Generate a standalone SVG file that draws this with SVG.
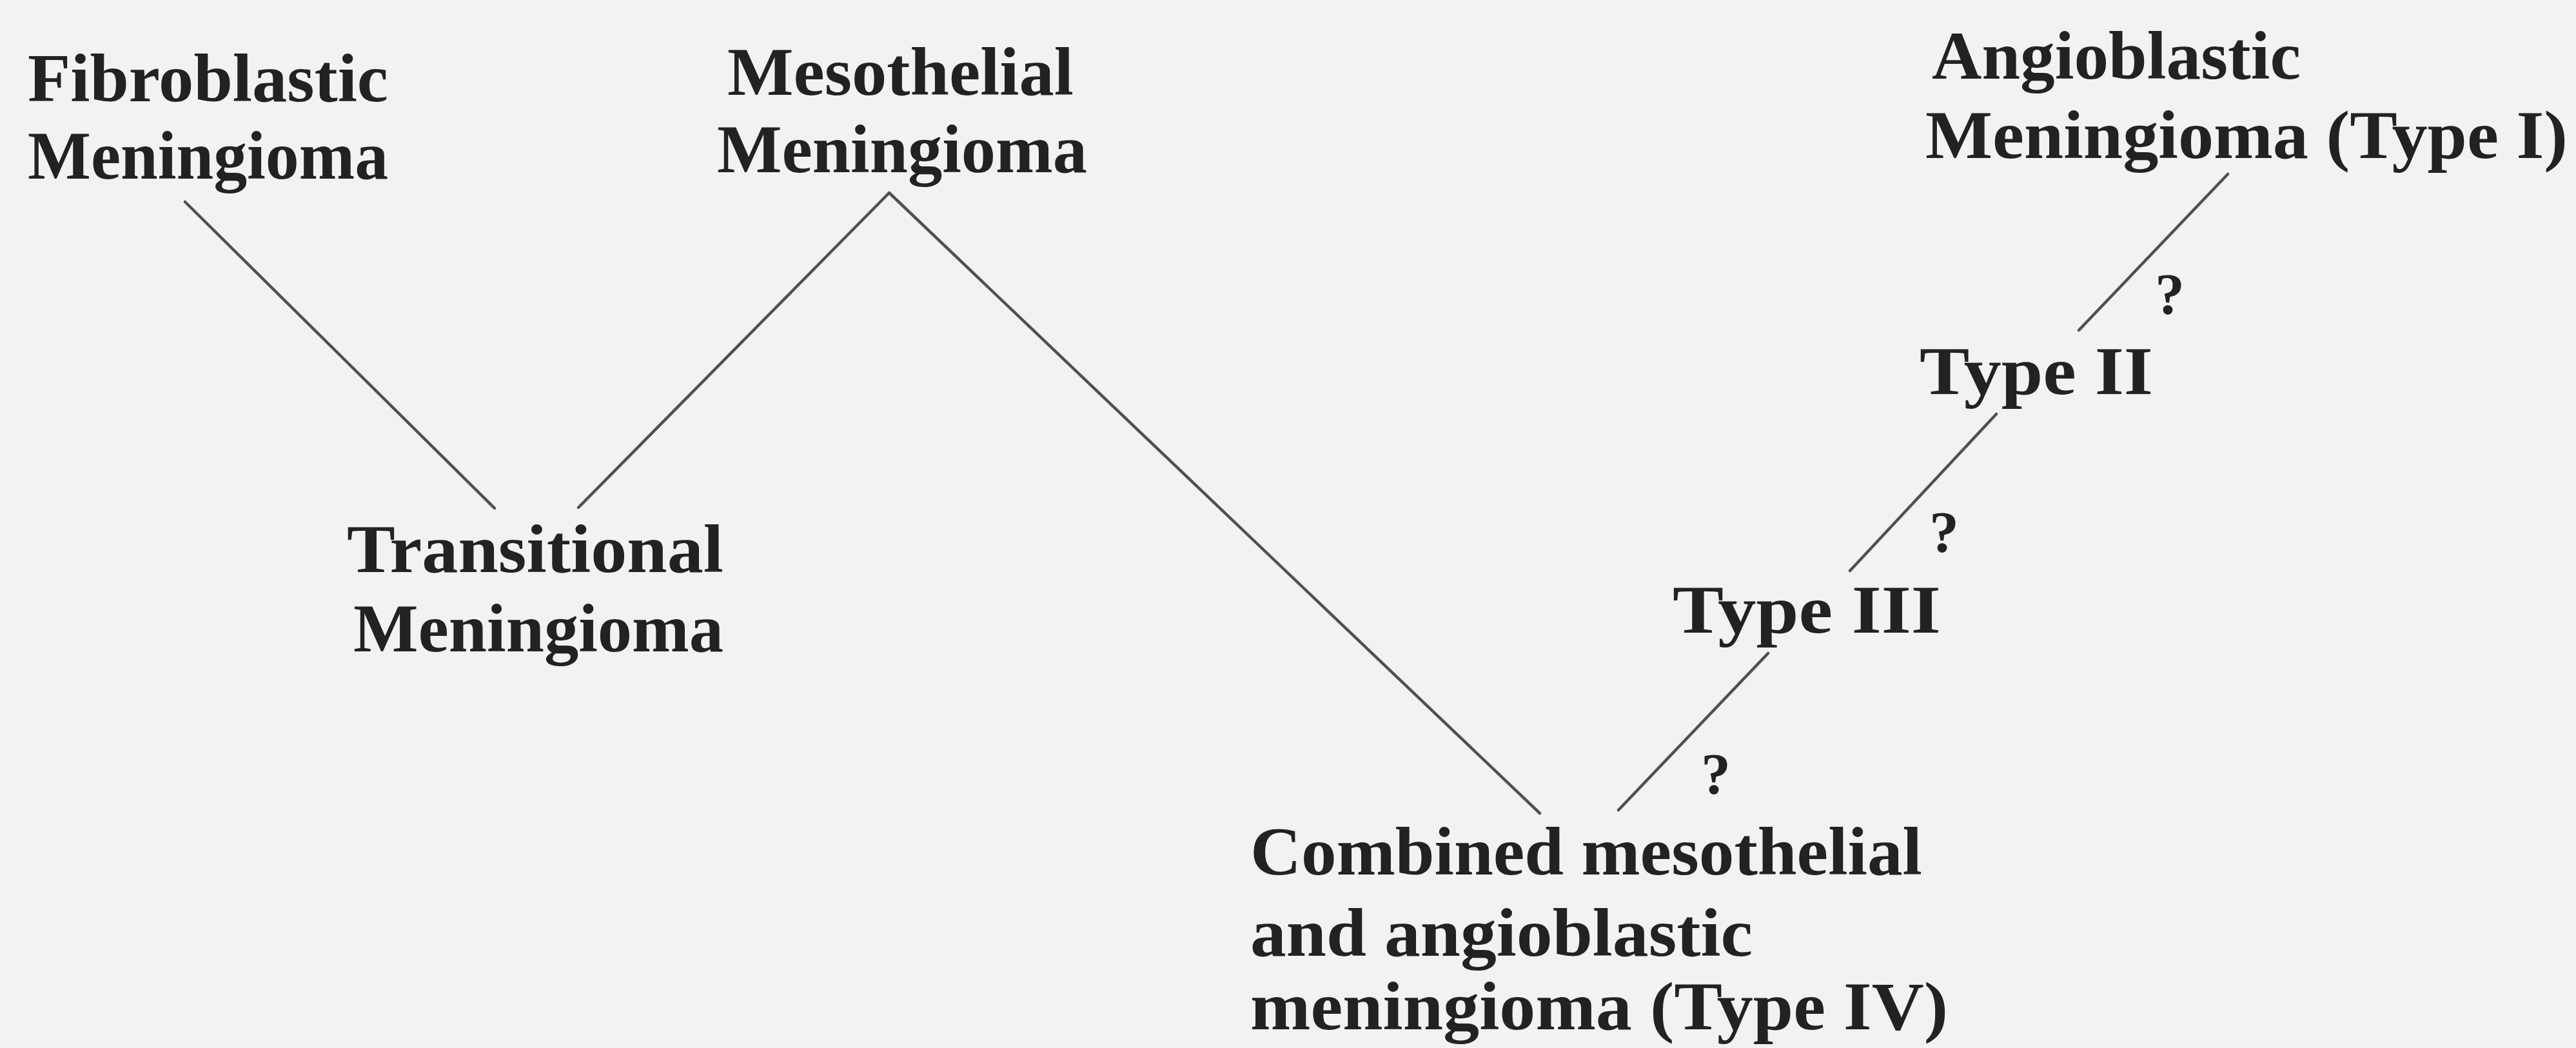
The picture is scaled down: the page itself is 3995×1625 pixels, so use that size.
<svg xmlns="http://www.w3.org/2000/svg" width="3995" height="1625" viewBox="0 0 3995 1625">
<style>
.t{font-family:"Liberation Serif","Times New Roman",serif;font-weight:bold;font-size:106px;fill:#222222}
.q{font-family:"Liberation Serif","Times New Roman",serif;font-weight:bold;font-size:92px;fill:#222222}
.c{stroke:#505050;stroke-width:4.5;fill:none;stroke-linecap:round;stroke-linejoin:round}
</style>
<rect width="3995" height="1625" fill="#f2f2f2"/>
<g id="connectors">
<line class="c" x1="287" y1="313" x2="767" y2="788"/>
<polyline class="c" points="897,787 1379,299 2388,1261"/>
<line class="c" x1="3455" y1="270" x2="3224" y2="512"/>
<line class="c" x1="3096" y1="642" x2="2869" y2="885"/>
<line class="c" x1="2742" y1="1013" x2="2510" y2="1256"/>
<text class="q" x="3342" y="487">?</text>
<text class="q" x="2992" y="856">?</text>
<text class="q" x="2638" y="1231">?</text>
</g>
<g id="fibroblastic">
<text class="t" x="43" y="157" textLength="559" lengthAdjust="spacingAndGlyphs">Fibroblastic</text>
<text class="t" x="43" y="277" textLength="559" lengthAdjust="spacingAndGlyphs">Meningioma</text>
</g>
<g id="mesothelial">
<text class="t" x="1128" y="147" textLength="537" lengthAdjust="spacingAndGlyphs">Mesothelial</text>
<text class="t" x="1112" y="267" textLength="574" lengthAdjust="spacingAndGlyphs">Meningioma</text>
</g>
<g id="angioblastic">
<text class="t" x="2996" y="122" textLength="572" lengthAdjust="spacingAndGlyphs">Angioblastic</text>
<text class="t" x="2986" y="245" textLength="996" lengthAdjust="spacingAndGlyphs">Meningioma (Type I)</text>
</g>
<g id="type2">
<text class="t" x="2977" y="611" textLength="362" lengthAdjust="spacingAndGlyphs">Type II</text>
</g>
<g id="type3">
<text class="t" x="2594" y="981" textLength="416" lengthAdjust="spacingAndGlyphs">Type III</text>
</g>
<g id="transitional">
<text class="t" x="538" y="887" textLength="584" lengthAdjust="spacingAndGlyphs">Transitional</text>
<text class="t" x="548" y="1010" textLength="574" lengthAdjust="spacingAndGlyphs">Meningioma</text>
</g>
<g id="combined">
<text class="t" x="1939" y="1356" textLength="1042" lengthAdjust="spacingAndGlyphs">Combined mesothelial</text>
<text class="t" x="1939" y="1482" textLength="779" lengthAdjust="spacingAndGlyphs">and angioblastic</text>
<text class="t" x="1939" y="1596" textLength="1082" lengthAdjust="spacingAndGlyphs">meningioma (Type IV)</text>
</g>
</svg>
